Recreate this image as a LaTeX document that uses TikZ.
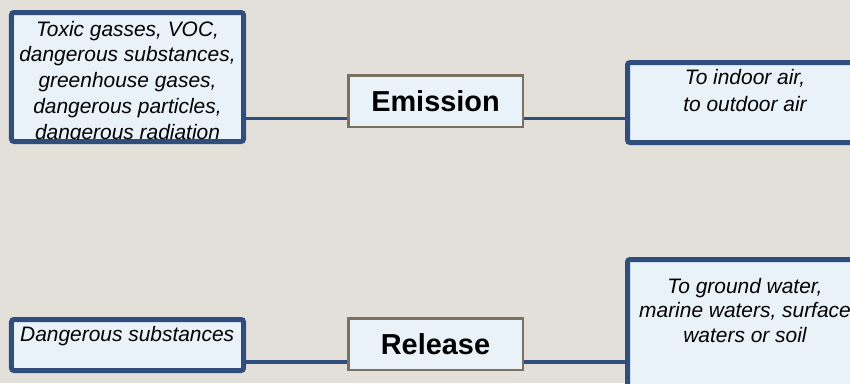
\documentclass[tikz,border=0pt]{standalone}
\usepackage{fontspec}
\setmainfont{Liberation Sans}
\definecolor{bgcol}{RGB}{227,224,218}
\definecolor{boxfill}{RGB}{233,241,249}
\definecolor{bordblue}{RGB}{47,77,125}
\definecolor{bordgray}{RGB}{122,113,97}
\begin{document}
\begin{tikzpicture}[x=1bp,y=-1bp,
  bluebox/.style={draw=bordblue, line width=5bp, fill=boxfill, rounded corners=2.5bp, inner sep=0pt, outer sep=0pt},
  stagebox/.style={draw=bordgray, line width=2.5bp, fill=boxfill, inner sep=0pt, outer sep=1.25bp,
    minimum width=174.5bp, minimum height=51.5bp, font=\fontsize{29}{33}\selectfont\bfseries},
  itext/.style={inner sep=0pt, align=center, font=\fontsize{21}{25}\selectfont\itshape},
  link/.style={draw=bordblue, line width=3.5bp}]
\fill[bgcol] (0,0) rectangle (850,383);
\useasboundingbox (0,0) rectangle (850,383);
\clip (0,0) rectangle (850,383);

\node[bluebox, minimum width=232bp, minimum height=129bp] (src1) at (127.5,77) {};
\node[bluebox, minimum width=235bp, minimum height=80bp] (dst1) at (745,102.5) {};
\node[bluebox, minimum width=232bp, minimum height=51bp] (src2) at (127.5,345) {};
\node[bluebox, minimum width=235bp, minimum height=148bp] (dst2) at (745,333.5) {};

\begin{scope}
  \clip ([xshift=2.5bp,yshift=-2.5bp]src1.north west) rectangle ([xshift=-2.5bp,yshift=2.5bp]src1.south east);
  \node[itext, anchor=north, font=\fontsize{21}{26}\selectfont\itshape] (t1) at (127.5,20.7)
   {Toxic gasses, VOC,\\dangerous substances,\\greenhouse gases,\\dangerous particles,\\dangerous radiation};
\end{scope}
\node[itext, anchor=north, font=\fontsize{21}{27.5}\selectfont\itshape] (t2) at (745,68.7)
   {To indoor air,\\to outdoor air};
\node[itext, anchor=north west] (t3) at (20,325.7) {Dangerous substances};
\node[itext, anchor=north, font=\fontsize{21}{25}\selectfont\itshape] (t4) at (745,277.7)
   {To ground water,\\marine waters, surface\\waters or soil};

\node[stagebox] (emi) at (435.5,101) {Emission};
\node[stagebox] (rel) at (435.5,344) {Release};

\coordinate (row1) at (0,118.5);
\coordinate (row2) at (0,362);
\draw[link] (src1.east |- row1) -- (emi.west |- row1);
\draw[link] (emi.east |- row1) -- (dst1.west |- row1);
\draw[link] (src2.east |- row2) -- (rel.west |- row2);
\draw[link] (rel.east |- row2) -- (dst2.west |- row2);
\end{tikzpicture}
\end{document}
